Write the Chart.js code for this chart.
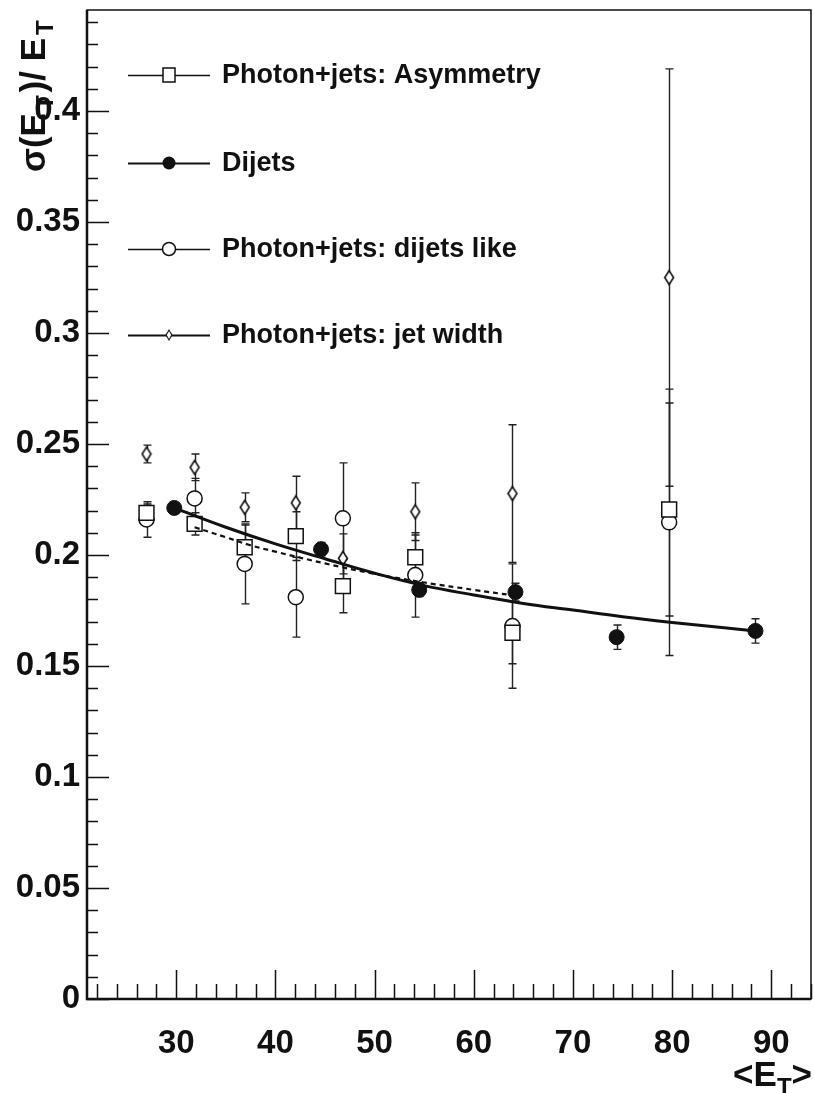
<!DOCTYPE html>
<html>
<head>
<meta charset="utf-8">
<script src="https://cdn.jsdelivr.net/npm/chart.js@4/dist/chart.umd.min.js"></script>
<style>
  html, body { margin: 0; padding: 0; background: #fff; }
  canvas { display: block; }
</style>
</head>
<body>
<canvas id="chart" width="814" height="1093"></canvas>
<script>
// ---- data ----
// photon+jets columns share the same <ET> bins
const binX = [27.0, 31.85, 36.9, 42.05, 46.8, 54.1, 63.9, 79.7];

const asymY   = [0.219, 0.214, 0.2035, 0.2085, 0.186, 0.199, 0.165, 0.2205];
const asymErr = [0.004, 0.005, 0.010, 0.011, 0.012, 0.010, 0.014, 0.048];

const likeY   = [0.216, 0.2255, 0.196, 0.181, 0.2165, 0.191, 0.168, 0.2147];
const likeErr = [0.008, 0.009, 0.018, 0.018, 0.025, 0.019, 0.028, 0.060];

const widthY   = [0.2455, 0.2395, 0.2215, 0.2235, 0.1985, 0.2195, 0.2277, 0.325];
const widthErr = [0.004, 0.006, 0.0065, 0.012, 0.011, 0.013, 0.031, 0.094];

const dijetX   = [29.8, 44.6, 54.5, 64.2, 74.4, 88.4];
const dijetY   = [0.2212, 0.2026, 0.1843, 0.1833, 0.163, 0.1658];
const dijetErr = [0.002, 0.003, 0.003, 0.004, 0.0055, 0.0055];

// fitted curves (solid = dijets, dashed = photon+jets)
const fitX = [29.8, 35, 40, 45, 50, 55, 60, 65, 70, 75, 80, 85, 88.4];
const fitY = [0.2212, 0.2125, 0.2050, 0.1983, 0.1918, 0.1862, 0.1820, 0.1782, 0.1752, 0.1722, 0.1696, 0.1673, 0.1658];

const dashX = [31.85, 35, 37.4, 40, 45, 50, 55, 60, 64];
const dashY = [0.2125, 0.2080, 0.2045, 0.2015, 0.1962, 0.1915, 0.1876, 0.1843, 0.1818];

const xTickLabels = [30, 40, 50, 60, 70, 80, 90];
const yTickLabels = [0, 0.05, 0.1, 0.15, 0.2, 0.25, 0.3, 0.35, 0.4];

const legendLabels = [
  "Photon+jets: Asymmetry",
  "Dijets",
  "Photon+jets: dijets like",
  "Photon+jets: jet width",
];

const FONT = "'Liberation Sans', Arial, Helvetica, sans-serif";
const INK = "#111";

// ---- helpers ----
function pts(xs, ys) {
  return xs.map((x, i) => ({ x, y: ys[i] }));
}

function diamondMarker(w, h, lw) {
  const c = document.createElement("canvas");
  c.width = w; c.height = h;
  const g = c.getContext("2d");
  g.fillStyle = "#fff";
  g.strokeStyle = INK;
  g.lineWidth = lw;
  g.beginPath();
  g.moveTo(w / 2, lw);
  g.lineTo(w - lw, h / 2);
  g.lineTo(w / 2, h - lw);
  g.lineTo(lw, h / 2);
  g.closePath();
  g.fill();
  g.stroke();
  return c;
}

const diamond = diamondMarker(12, 17, 1.6);

// ---- plugins ----
const errorBars = {
  id: "errorBars",
  beforeDatasetsDraw(chart) {
    const { ctx, scales: { x, y } } = chart;
    ctx.save();
    ctx.strokeStyle = "#222";
    ctx.lineWidth = 1.4;
    chart.data.datasets.forEach((ds) => {
      if (!ds.errors) return;
      ds.data.forEach((p, i) => {
        const e = ds.errors[i];
        const px = Math.round(x.getPixelForValue(p.x)) + 0.5;
        const top = y.getPixelForValue(p.y + e);
        const bot = y.getPixelForValue(p.y - e);
        ctx.beginPath();
        ctx.moveTo(px, top); ctx.lineTo(px, bot);
        ctx.moveTo(px - 4, top); ctx.lineTo(px + 4, top);
        ctx.moveTo(px - 4, bot); ctx.lineTo(px + 4, bot);
        ctx.stroke();
      });
    });
    ctx.restore();
  },
};

// ROOT style frame + inward ticks
const frame = {
  id: "frame",
  afterDatasetsDraw(chart) {
    const { ctx, chartArea: a, scales: { x, y } } = chart;
    ctx.save();
    ctx.strokeStyle = INK;
    ctx.lineWidth = 1.5;
    ctx.strokeRect(a.left, a.top, a.right - a.left, a.bottom - a.top);

    ctx.beginPath();
    for (let i = 0; i <= 44; i++) {
      const v = i / 100;
      const py = Math.round(y.getPixelForValue(v)) + 0.5;
      const len = i % 5 === 0 ? 22 : 11;
      ctx.moveTo(a.left, py); ctx.lineTo(a.left + len, py);
    }
    for (let v = 22; v <= 94; v += 2) {
      const px = Math.round(x.getPixelForValue(v)) + 0.5;
      const len = v % 10 === 0 ? 29 : 15;
      ctx.moveTo(px, a.bottom); ctx.lineTo(px, a.bottom - len);
    }
    ctx.stroke();

    // axis lines a bit heavier
    ctx.lineWidth = 2.5;
    ctx.beginPath();
    ctx.moveTo(a.left, a.top); ctx.lineTo(a.left, a.bottom); ctx.lineTo(a.right, a.bottom);
    ctx.stroke();
    ctx.restore();
  },
};

const legendBox = {
  id: "legendBox",
  afterDraw(chart) {
    const { ctx } = chart;
    const rows = [75, 163, 249, 335];
    const x1 = 128, x2 = 210, mx = 169, tx = 222;
    ctx.save();
    ctx.strokeStyle = INK;
    ctx.fillStyle = INK;
    rows.forEach((ry, i) => {
      ctx.lineWidth = i === 1 || i === 3 ? 2 : 1.4;
      ctx.beginPath();
      ctx.moveTo(x1, ry + 0.5); ctx.lineTo(x2, ry + 0.5);
      ctx.stroke();
      ctx.lineWidth = 1.5;
      ctx.beginPath();
      if (i === 0) {
        ctx.fillStyle = "#fff";
        ctx.rect(mx - 6, ry - 7, 12, 14);
        ctx.fill(); ctx.stroke();
      } else if (i === 1) {
        ctx.fillStyle = INK;
        ctx.arc(mx, ry, 6.5, 0, Math.PI * 2);
        ctx.fill();
      } else if (i === 2) {
        ctx.fillStyle = "#fff";
        ctx.arc(mx, ry, 6.5, 0, Math.PI * 2);
        ctx.fill(); ctx.stroke();
      } else {
        ctx.drawImage(diamond, mx - 4, ry - 6, 8, 12);
      }
      ctx.fillStyle = INK;
      ctx.font = "bold 27px " + FONT;
      ctx.textBaseline = "middle";
      ctx.fillText(legendLabels[i], tx, ry + 1);
    });
    ctx.restore();
  },
};

const axisTitles = {
  id: "axisTitles",
  afterDraw(chart) {
    const { ctx } = chart;
    ctx.save();
    ctx.fillStyle = INK;
    ctx.textBaseline = "alphabetic";

    // y title, rotated, reads upward
    ctx.translate(45, 172);
    ctx.rotate(-Math.PI / 2);
    let cx = 0;
    const big = "bold 35px " + FONT, small = "bold 24px " + FONT;
    const pieces = [["σ(E", big, 0], ["T", small, 8], [")/ E", big, 0], ["T", small, 8]];
    pieces.forEach(([t, f, dy]) => {
      ctx.font = f;
      ctx.fillText(t, cx, dy);
      cx += ctx.measureText(t).width + 3;
    });
    ctx.setTransform(1, 0, 0, 1, 0, 0);

    // x title, bottom right
    ctx.font = big;
    const w1 = ctx.measureText("<E").width;
    ctx.font = small;
    const w2 = ctx.measureText("T").width;
    ctx.font = big;
    const w3 = ctx.measureText(">").width;
    let sx = 812 - (w1 + w2 + w3);
    ctx.fillText("<E", sx, 1086);
    ctx.font = small;
    ctx.fillText("T", sx + w1, 1095);
    ctx.font = big;
    ctx.fillText(">", sx + w1 + w2, 1086);
    ctx.restore();
  },
};

// ---- chart ----
const ctx = document.getElementById("chart").getContext("2d");

new Chart(ctx, {
  type: "scatter",
  data: {
    datasets: [
      {
        label: "Dijets",
        data: pts(dijetX, dijetY),
        errors: dijetErr,
        pointStyle: "circle",
        pointRadius: 7.5,
        backgroundColor: INK,
        borderColor: INK,
        borderWidth: 1,
        order: 1,
      },
      {
        label: "Photon+jets: Asymmetry",
        data: pts(binX, asymY),
        errors: asymErr,
        pointStyle: "rect",
        pointRadius: 10.5,
        backgroundColor: "#fff",
        borderColor: INK,
        borderWidth: 1.5,
        order: 3,
      },
      {
        label: "Photon+jets: dijets like",
        data: pts(binX, likeY),
        errors: likeErr,
        pointStyle: "circle",
        pointRadius: 7.5,
        backgroundColor: "#fff",
        borderColor: INK,
        borderWidth: 1.5,
        order: 4,
      },
      {
        label: "Photon+jets: jet width",
        data: pts(binX, widthY),
        errors: widthErr,
        pointStyle: diamond,
        pointRadius: 6,
        order: 2,
      },
      {
        label: "fit dijets",
        data: pts(fitX, fitY),
        showLine: true,
        pointRadius: 0,
        borderColor: INK,
        borderWidth: 3,
        tension: 0.4,
        order: 0,
      },
      {
        label: "fit photon+jets",
        data: pts(dashX, dashY),
        showLine: true,
        pointRadius: 0,
        borderColor: INK,
        borderWidth: 2.2,
        borderDash: [5, 4],
        tension: 0.4,
        order: 0,
      },
    ],
  },
  options: {
    responsive: false,
    animation: false,
    events: [],
    layout: { autoPadding: false, padding: { top: 10, right: 3, left: 0, bottom: 0 } },
    plugins: {
      legend: { display: false },
      tooltip: { enabled: false },
    },
    scales: {
      x: {
        type: "linear",
        min: 21,
        max: 94,
        grid: { display: false, drawTicks: false },
        border: { display: false },
        afterBuildTicks: (s) => {
          s.ticks = xTickLabels.map((v) => ({ value: v }));
        },
        afterFit: (s) => {
          s.height = 94;
          s.paddingLeft = 0;
          s.paddingRight = 0;
        },
        ticks: {
          color: INK,
          padding: 25,
          maxRotation: 0,
          font: { family: FONT, size: 33, weight: "bold" },
          callback: (v) => String(v),
        },
      },
      y: {
        type: "linear",
        min: 0,
        max: 0.4455,
        grid: { display: false, drawTicks: false },
        border: { display: false },
        afterBuildTicks: (s) => {
          s.ticks = yTickLabels.map((v) => ({ value: v }));
        },
        afterFit: (s) => {
          s.width = 87;
          s.paddingTop = 0;
          s.paddingBottom = 0;
        },
        ticks: {
          color: INK,
          padding: 7,
          font: { family: FONT, size: 33, weight: "bold" },
          callback: (v) => (v === 0 ? "0" : String(+v.toFixed(2))),
        },
      },
    },
  },
  plugins: [errorBars, frame, legendBox, axisTitles],
});
</script>
</body>
</html>
